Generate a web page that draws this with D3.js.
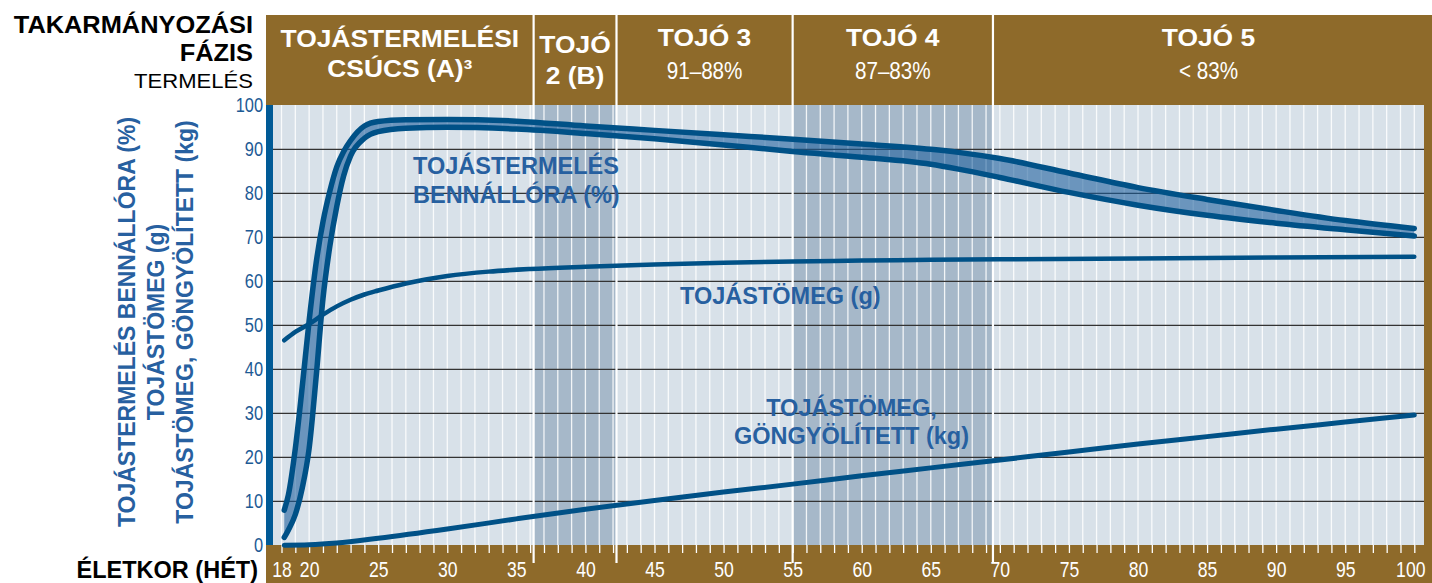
<!DOCTYPE html>
<html>
<head>
<meta charset="utf-8">
<script src="https://cdn.jsdelivr.net/npm/d3@7"></script>
<style>
  body { margin: 0; background: #fff; }
  svg { display: block; }
</style>
</head>
<body>
<script>
"use strict";

// Egg production per hen housed (%), upper and lower edge of the band
const prodWeeks = [18.2, 18.5, 19, 19.5, 20, 20.5, 21, 21.5, 22, 22.5, 23, 24, 25, 27, 30, 35, 40, 45, 50, 55, 60, 65, 67, 70, 75, 80, 85, 90, 95, 100];
const prodHigh  = [8, 11.5, 22, 36, 51, 64, 73.5, 80.5, 86, 89.5, 92, 95.3, 96.3, 96.7, 96.8, 96.4, 95.3, 94.3, 93.3, 92.3, 91.2, 90.0, 89.3, 87.9, 84.6, 81.3, 78.6, 76.1, 73.8, 72.0];
const prodLow   = [1.8, 3.5, 7, 13, 22, 38, 56, 68, 77, 84, 88.5, 92.5, 94, 94.8, 95, 94.6, 93.6, 92.4, 91, 89.5, 88.2, 86.6, 85.5, 83.6, 80.2, 77.3, 75.0, 73.2, 71.7, 70.3];

// Egg weight (g)
const weightWeeks = [18.2, 19, 20, 21, 22, 23, 24, 25, 27, 30, 33, 36, 40, 45, 50, 55, 60, 65, 70, 80, 90, 100];
const eggWeight   = [46.6, 48.5, 50.3, 52.4, 54.3, 55.8, 57.0, 57.9, 59.5, 61.2, 62.2, 62.8, 63.3, 63.8, 64.2, 64.5, 64.7, 64.9, 65.0, 65.2, 65.4, 65.6];

// Cumulative egg mass (kg)
const massWeeks = [18.2, 20, 22, 25, 30, 35, 40, 45, 50, 55, 60, 65, 70, 75, 80, 85, 90, 95, 100];
const eggMass   = [0, 0.1, 0.5, 1.6, 3.7, 6.0, 8.2, 10.2, 12.1, 13.9, 15.8, 17.6, 19.4, 21.2, 23.0, 24.7, 26.4, 28.0, 29.6];

// Feeding phases
const phaseEdges = [36.25, 42.25, 55, 69.5];
const phaseTitles = [["TOJÁSTERMELÉSI", "CSÚCS (A)³"], ["TOJÓ", "2 (B)"], ["TOJÓ 3", "91–88%"], ["TOJÓ 4", "87–83%"], ["TOJÓ 5", "< 83%"]];
const shadedPhases = [1, 3];

const xLabelWeeks = [18, 20, 25, 30, 35, 40, 45, 50, 55, 60, 65, 70, 75, 80, 85, 90, 95, 100];
const yTicks = [0, 10, 20, 30, 40, 50, 60, 70, 80, 90, 100];
const yGrid = [10, 20, 30, 40, 50, 60, 70, 80, 90];

const W = 1432, H = 583;
const plotL = 273, plotR = 1424, plotT = 105, plotB = 545;
const brown = "#8e6a2a", lineBlue = "#005187", textBlue = "#2760a0";
const sans = "'Liberation Sans', Arial, sans-serif";

const x = d3.scaleLinear().domain([18, 100]).range([281.5, 1414.3]);
const y = d3.scaleLinear().domain([0, 100]).range([545.3, 105.3]);

// squeeze or widen text horizontally
function stretch(sel, k) {
  sel.each(function () {
    const len = this.getComputedTextLength();
    d3.select(this).attr("textLength", len * k).attr("lengthAdjust", "spacingAndGlyphs");
  });
}

const svg = d3.select("body").append("svg")
  .attr("width", W)
  .attr("height", H);

svg.append("rect").attr("width", W).attr("height", H).attr("fill", "#fff");

// brown frame (header, bottom band, right edge)
svg.append("rect")
  .attr("x", 266).attr("y", 15)
  .attr("width", W - 266).attr("height", H - 15)
  .attr("fill", brown);

// plot background
svg.append("rect")
  .attr("x", plotL).attr("y", plotT)
  .attr("width", plotR - plotL).attr("height", plotB - plotT)
  .attr("fill", "#d8e1e9");

// darker phases
const cellEdges = [x.invert(266)].concat(phaseEdges, [x.invert(plotR)]);
shadedPhases.forEach(i => {
  svg.append("rect")
    .attr("x", x(cellEdges[i])).attr("y", plotT)
    .attr("width", x(cellEdges[i + 1]) - x(cellEdges[i]))
    .attr("height", plotB - plotT)
    .attr("fill", "#a6b8c9");
});

// weekly white lines
const weeks = d3.range(18, 101);
svg.append("g").selectAll("line")
  .data(weeks)
  .join("line")
  .attr("x1", d => x(d)).attr("x2", d => x(d))
  .attr("y1", plotT).attr("y2", plotB)
  .attr("stroke", "#fff").attr("stroke-opacity", 0.85).attr("stroke-width", 1.3);

// horizontal grid
svg.append("g").selectAll("line")
  .data(yGrid)
  .join("line")
  .attr("x1", plotL).attr("x2", plotR)
  .attr("y1", d => y(d)).attr("y2", d => y(d))
  .attr("stroke", "#333").attr("stroke-width", 1.2);

// phase separators
svg.append("g").selectAll("line")
  .data(phaseEdges)
  .join("line")
  .attr("x1", d => x(d)).attr("x2", d => x(d))
  .attr("y1", 15).attr("y2", 563)
  .attr("stroke", "#fff").attr("stroke-width", 2.2);

// bottom week ticks
const minorAxis = svg.append("g")
  .attr("transform", `translate(0,${plotB})`)
  .call(d3.axisBottom(x).tickValues(weeks).tickSize(8).tickFormat(""));
minorAxis.select(".domain").remove();
minorAxis.selectAll("line").attr("stroke", "#fff").attr("stroke-width", 1.3);

const labelAxis = svg.append("g")
  .attr("transform", `translate(0,${plotB})`)
  .call(d3.axisBottom(x).tickValues(xLabelWeeks).tickSize(0).tickPadding(16));
labelAxis.select(".domain").remove();
labelAxis.selectAll("text")
  .attr("fill", "#fff")
  .attr("dx", d => d === 100 ? -4 : 0)
  .style("font-family", sans)
  .style("font-size", "22px")
  .call(stretch, 0.8);

// y axis labels
const yAxis = svg.append("g")
  .attr("transform", `translate(${plotL},0)`)
  .call(d3.axisLeft(y).tickValues(yTicks).tickSize(0).tickPadding(10));
yAxis.select(".domain").remove();
yAxis.selectAll("text")
  .attr("fill", "#1d5a95")
  .style("font-family", sans)
  .style("font-size", "20px")
  .call(stretch, 0.82);

// thick blue y axis bar
svg.append("rect")
  .attr("x", 266).attr("y", plotT)
  .attr("width", 7).attr("height", plotB - plotT)
  .attr("fill", "#005a96");

// production band
const prodData = prodWeeks.map((w, i) => ({ w: w, hi: prodHigh[i], lo: prodLow[i] }));
svg.append("path")
  .datum(prodData)
  .attr("d", d3.area().curve(d3.curveMonotoneX)
    .x(d => x(d.w)).y0(d => y(d.lo)).y1(d => y(d.hi)))
  .attr("fill", "rgb(27,95,156)").attr("fill-opacity", 0.58);

function drawLine(ws, vs, width) {
  svg.append("path")
    .datum(ws.map((w, i) => [w, vs[i]]))
    .attr("d", d3.line().curve(d3.curveMonotoneX).x(d => x(d[0])).y(d => y(d[1])))
    .attr("fill", "none")
    .attr("stroke", lineBlue)
    .attr("stroke-width", width)
    .attr("stroke-linecap", "round")
    .attr("stroke-linejoin", "round");
}
drawLine(prodWeeks, prodHigh, 5.5);
drawLine(prodWeeks, prodLow, 5.5);
drawLine(weightWeeks, eggWeight, 4.5);
drawLine(massWeeks, eggMass, 5);

// header texts
const rowY = [[47, 77], [53, 84], [46, 79], [46, 79], [46, 79]];
phaseTitles.forEach((lines, i) => {
  const cx = (x(cellEdges[i]) + x(cellEdges[i + 1])) / 2;
  lines.forEach((t, j) => {
    const bold = j === 0 || i < 2;
    svg.append("text")
      .attr("x", cx).attr("y", rowY[i][j])
      .attr("text-anchor", "middle")
      .attr("fill", "#fff")
      .style("font-family", sans)
      .style("font-weight", bold ? "bold" : "normal")
      .style("font-size", "24px")
      .text(t)
      .call(stretch, bold ? 1.1 : 0.86);
  });
});

// left header
svg.append("text").attr("x", 253).attr("y", 33).attr("text-anchor", "end")
  .style("font-family", sans).style("font-weight", "bold").style("font-size", "23.5px")
  .text("TAKARMÁNYOZÁSI")
  .call(stretch, 1.08);
svg.append("text").attr("x", 253).attr("y", 61).attr("text-anchor", "end")
  .style("font-family", sans).style("font-weight", "bold").style("font-size", "23.5px")
  .text("FÁZIS")
  .call(stretch, 1.08);
svg.append("text").attr("x", 253).attr("y", 88).attr("text-anchor", "end")
  .style("font-family", sans).style("font-size", "21px")
  .text("TERMELÉS")
  .call(stretch, 1.05);
svg.append("text").attr("x", 258).attr("y", 578).attr("text-anchor", "end")
  .style("font-family", sans).style("font-weight", "bold").style("font-size", "23.5px")
  .text("ÉLETKOR (HÉT)");

// y axis titles
const yTitles = ["TOJÁSTERMELÉS BENNÁLLÓRA (%)", "TOJÁSTÖMEG (g)", "TOJÁSTÖMEG, GÖNGYÖLÍTETT (kg)"];
const yTitleX = [135, 163.5, 192.5];
yTitles.forEach((t, i) => {
  svg.append("text")
    .attr("transform", `translate(${yTitleX[i]},322) rotate(-90)`)
    .attr("text-anchor", "middle")
    .attr("fill", textBlue)
    .style("font-family", sans).style("font-weight", "bold").style("font-size", "23px")
    .text(t);
});

// series labels
const seriesLabels = [
  { t: "TOJÁSTERMELÉS", x: 413, y: 173.5, a: "start" },
  { t: "BENNÁLLÓRA (%)", x: 413, y: 202.5, a: "start" },
  { t: "TOJÁSTÖMEG (g)", x: 680, y: 304, a: "start" },
  { t: "TOJÁSTÖMEG,", x: 851.5, y: 415.5, a: "middle" },
  { t: "GÖNGYÖLÍTETT (kg)", x: 851.5, y: 444, a: "middle" }
];
svg.append("g").selectAll("text")
  .data(seriesLabels)
  .join("text")
  .attr("x", d => d.x).attr("y", d => d.y)
  .attr("text-anchor", d => d.a)
  .attr("fill", textBlue)
  .style("font-family", sans).style("font-weight", "bold").style("font-size", "23.5px")
  .text(d => d.t);
</script>
</body>
</html>
